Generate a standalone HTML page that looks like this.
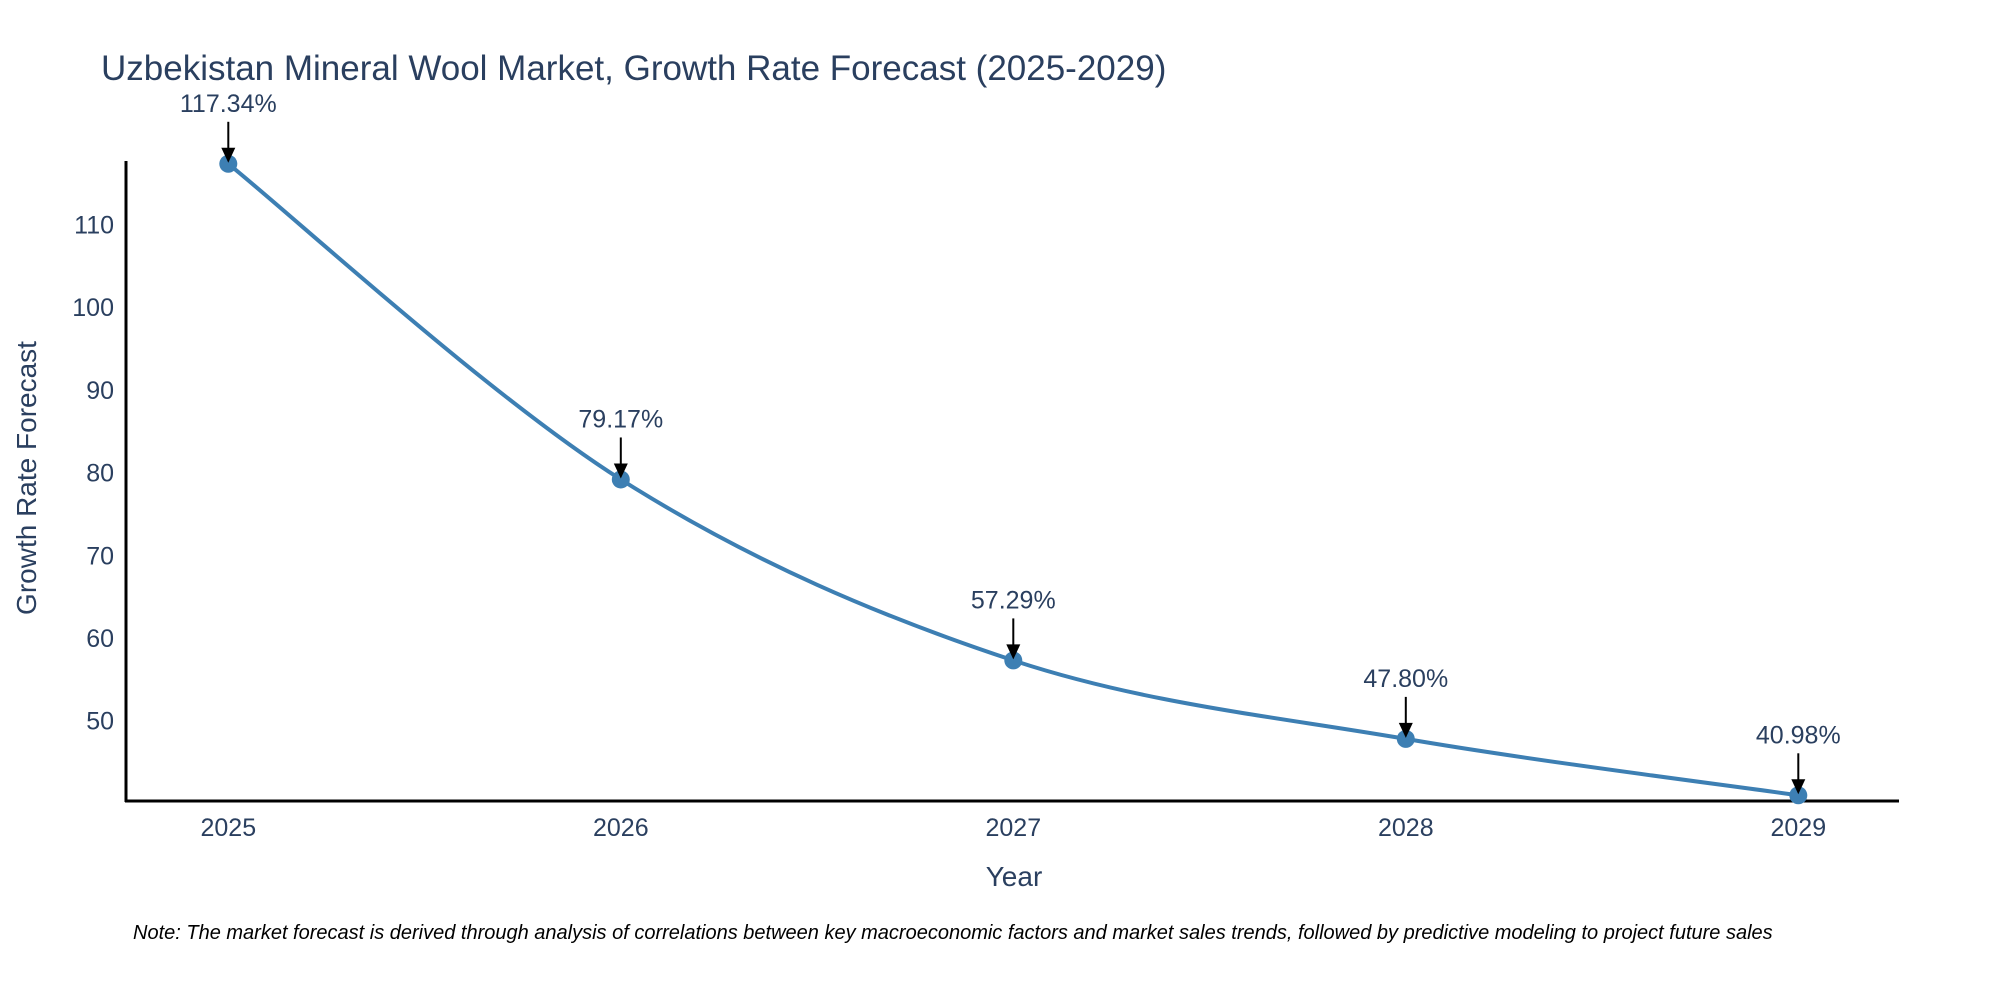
<!DOCTYPE html>
<html><head><meta charset="utf-8"><style>
body{margin:0;background:#fff;}
svg text{font-family:"Liberation Sans",sans-serif;fill:#2a3f5f;}
</style></head><body>
<svg id="chart" width="2000" height="1000" xmlns="http://www.w3.org/2000/svg">
<text x="101" y="80" font-size="35">Uzbekistan Mineral Wool Market, Growth Rate Forecast (2025-2029)</text>
<g id="grid"></g>
<g id="xt"></g>
<line x1="126" y1="161" x2="126" y2="802" stroke="#000" stroke-width="3"/>
<line x1="125" y1="801" x2="1899" y2="801" stroke="#000" stroke-width="3"/>
<path id="line" fill="none" stroke="#3d7fb3" stroke-width="4"/>
<g id="marks"></g>
<text transform="translate(36,478) rotate(-90)" text-anchor="middle" font-size="28">Growth Rate Forecast</text>
<text x="1014" y="886" text-anchor="middle" font-size="28">Year</text>
<text x="133" y="939" font-size="20" font-style="italic" fill="#000" style="fill:#000">Note: The market forecast is derived through analysis of correlations between key macroeconomic factors and market sales trends, followed by predictive modeling to project future sales</text>
</svg>
<script>
const years = ['2025','2026','2027','2028','2029'];
const values = [117.34, 79.17, 57.29, 47.80, 40.98];
const labels = ['117.34%','79.17%','57.29%','47.80%','40.98%'];
const yTicks = [50,60,70,80,90,100,110];

const NS='http://www.w3.org/2000/svg';
function X(i){return 228.3+i*392.5;}
function Y(v){return 720.7-(v-50)*8.27;}
function mk(t,a,p){const e=document.createElementNS(NS,t);for(const k in a)e.setAttribute(k,a[k]);p.appendChild(e);return e;}
const grid=document.getElementById('grid'), xt=document.getElementById('xt'), marks=document.getElementById('marks');
yTicks.forEach(v=>{const t=mk('text',{x:114,y:Y(v)+9,'text-anchor':'end','font-size':25},grid);t.textContent=v;

});
years.forEach((y,i)=>{const t=mk('text',{x:X(i),y:836,'text-anchor':'middle','font-size':25},xt);t.textContent=y;

});
const pts=values.map((v,i)=>[X(i),Y(v)]);
let d='M'+pts[0][0]+','+pts[0][1];
for(let i=0;i<pts.length-1;i++){
 const p0=pts[Math.max(i-1,0)],p1=pts[i],p2=pts[i+1],p3=pts[Math.min(i+2,pts.length-1)];
 const s=6;
 d+=' C'+(p1[0]+(p2[0]-p0[0])/s)+','+(p1[1]+(p2[1]-p0[1])/s)+' '+(p2[0]-(p3[0]-p1[0])/s)+','+(p2[1]-(p3[1]-p1[1])/s)+' '+p2[0]+','+p2[1];
}
document.getElementById('line').setAttribute('d',d);
pts.forEach((p,i)=>{
 const c=mk('circle',{cx:p[0],cy:p[1],r:9,fill:'#3d7fb3'},marks);
 
 
 const l=mk('line',{x1:p[0],y1:p[1]-42,x2:p[0],y2:p[1]-14,stroke:'#000','stroke-width':2},marks);
 
 
 const h=mk('polygon',{points:(p[0]-7)+','+(p[1]-16)+' '+(p[0]+7)+','+(p[1]-16)+' '+p[0]+','+(p[1]-1),fill:'#000'},marks);
 
 
 const t=mk('text',{x:p[0],y:p[1]-52,'text-anchor':'middle','font-size':25},marks);
 t.textContent=labels[i];
 
 
});
</script>
</body></html>
